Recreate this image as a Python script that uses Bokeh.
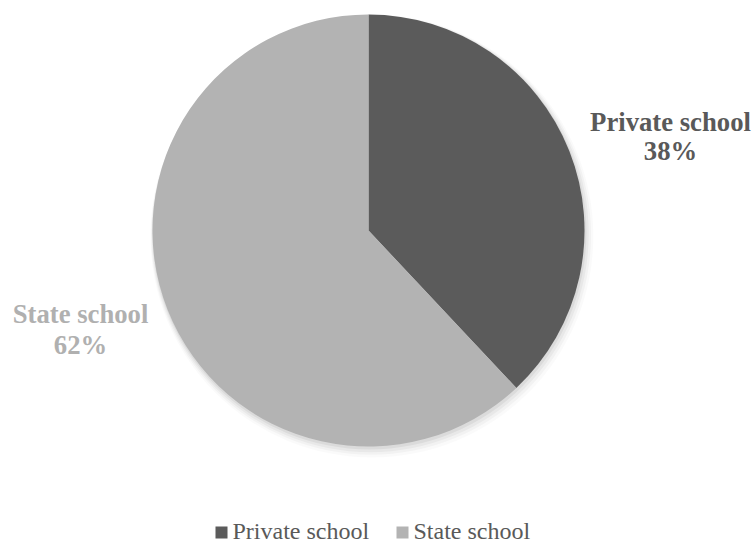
import math
from bokeh.plotting import figure
from bokeh.models import ColumnDataSource, Range1d
from bokeh.core.properties import value
from bokeh.embed import file_html
from bokeh.resources import INLINE

categories = ["Private school", "State school"]
shares = [38, 62]
colors = ["#5b5b5b", "#b3b3b3"]
label_colors = ["#595959", "#b0b0b0"]

W, H = 753, 543
p = figure(width=W, height=H, output_backend="svg", toolbar_location=None,
           x_range=Range1d(0, W), y_range=Range1d(0, H), min_border=0)
p.axis.visible = False
p.grid.visible = False
p.outline_line_color = None
p.background_fill_color = "white"
p.border_fill_color = "white"

cx, cy, r = 368, 313, 216

# soft shadow
for i, a in enumerate([0.05, 0.04, 0.03, 0.02]):
    p.circle(x=[cx + 1 + i * 0.8], y=[cy - 2 - i * 1.2], radius=r + 1 + i * 1.5,
             fill_color="black", fill_alpha=a, line_color=None)

total = sum(shares)
starts, ends = [], []
acc = 0.0
for s in shares:
    a0 = math.pi / 2 - 2 * math.pi * acc / total
    acc += s
    a1 = math.pi / 2 - 2 * math.pi * acc / total
    starts.append(a0)
    ends.append(a1)

src = ColumnDataSource(dict(cat=categories, share=shares, color=colors,
                            start=starts, end=ends))
p.wedge(x=cx, y=cy, radius=r, start_angle="start", end_angle="end",
        direction="clock", fill_color="color", line_color=None, source=src)

# data labels
label_x = [670, 80]
label_y1 = [422, 230]
label_y2 = [393, 199]
for i, c in enumerate(categories):
    p.text(x=[label_x[i]], y=[label_y1[i]], text=[c],
           text_font=value("Liberation Serif"), text_font_style="bold",
           text_font_size="26.7px", text_color=label_colors[i],
           text_align="center", text_baseline="middle")
    p.text(x=[label_x[i]], y=[label_y2[i]], text=[f"{shares[i]}%"],
           text_font=value("Liberation Serif"), text_font_style="bold",
           text_font_size="26.7px", text_color=label_colors[i],
           text_align="center", text_baseline="middle")

# legend
leg_sq_x = [221, 402]
p.scatter(x=leg_sq_x, y=[11] * 2, marker="square", size=12,
          fill_color=colors, line_color=None)
p.text(x=[x + 11 for x in leg_sq_x], y=[13] * 2, text=categories,
       text_font=value("Liberation Serif"), text_font_size="24px",
       text_color="#595959", text_align="left", text_baseline="middle")

open("out.html", "w").write(file_html(p, INLINE))
